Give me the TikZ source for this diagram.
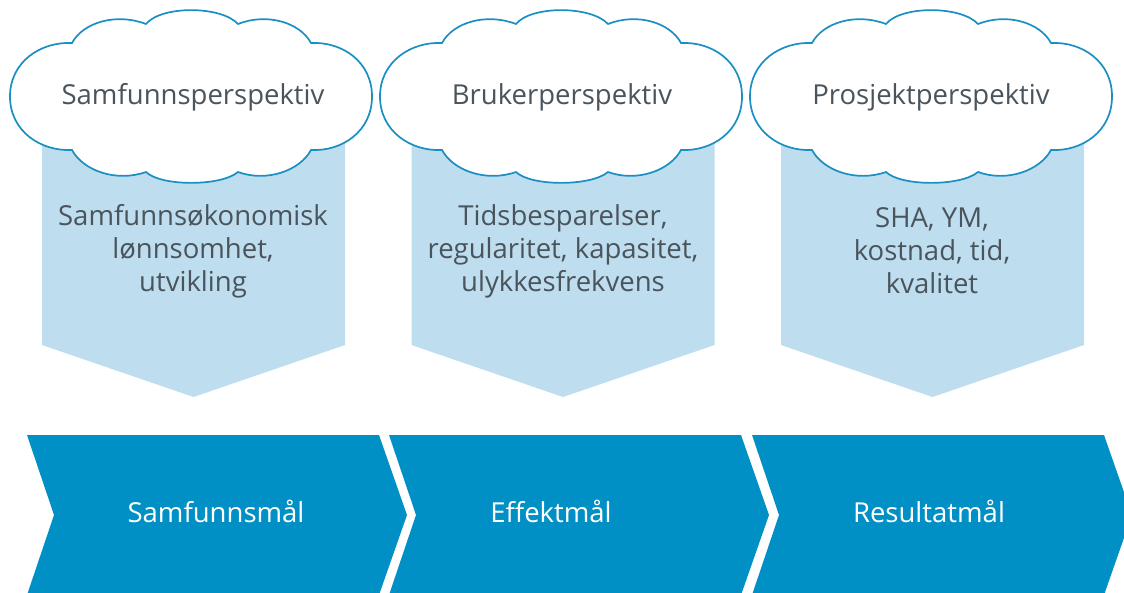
\documentclass[tikz,border=0pt]{standalone}
\usepackage{fontspec}
\setmainfont{Open Sans}
\definecolor{darkblue}{HTML}{0090C5}
\definecolor{lightblue}{HTML}{BEDDEE}
\definecolor{cloudline}{HTML}{1A8FC4}
\definecolor{txtgray}{HTML}{4A545C}
\tikzset{
  pent/.style={fill=lightblue, draw=none},
  chev/.style={fill=darkblue, draw=none},
  cloudshape/.style={fill=white, draw=cloudline, line width=1.7pt},
  cloudtext/.style={text=txtgray, font=\fontsize{27.5}{33}\selectfont, inner sep=0pt},
  bodytext/.style={text=txtgray, font=\fontsize{27.5}{33}\selectfont, align=center, inner sep=0pt},
  chevtext/.style={text=white, font=\fontsize{27.5}{33}\selectfont, inner sep=0pt},
}
\newcommand{\mycloud}[2]{%
  \path[cloudshape, shift={(#1,#2)}]
    (-119,-53.5) .. controls (-108,-74) and (-75,-84) .. (-45,-72.5)
    .. controls (-30,-91) and (30,-91) .. (47,-72.5)
    .. controls (76,-84) and (109,-74) .. (120,-53.5)
    .. controls (151,-55) and (181,-35) .. (181,0)
    .. controls (181,35) and (151,55) .. (120,53.5)
    .. controls (109,74) and (76,86) .. (47,75.5)
    .. controls (30,90) and (-30,90) .. (-45,75.5)
    .. controls (-75,86) and (-108,74) .. (-119,53.5)
    .. controls (-150,55) and (-181,35) .. (-181,0)
    .. controls (-181,-35) and (-150,-55) .. cycle;}
\newcommand{\mypent}[1]{%
  \path[pent, shift={(#1,0)}] (-151.5,140) -- (151.5,140) -- (151.5,345) -- (0,397) -- (-151.5,345) -- cycle;}
\newcommand{\mychev}[1]{%
  \path[chev, shift={(#1,0)}] (0,435) -- (352,435) -- (380,515) -- (352,595) -- (0,595) -- (27,515) -- cycle;}
\begin{document}
\begin{tikzpicture}[x=1pt, y=-1pt]
\useasboundingbox (0,0) rectangle (1124,592);
\clip (0,0) rectangle (1124,592);
% pentagons
\mypent{193.5}
\mypent{563}
\mypent{932.5}
% clouds
\mycloud{191}{96.5}
\mycloud{561}{96.5}
\mycloud{931}{96.5}
\node[cloudtext] (c1) at (193,97) {Samfunnsperspektiv};
\node[cloudtext] (c2) at (562,97) {Brukerperspektiv};
\node[cloudtext] (c3) at (931,97) {Prosjektperspektiv};
% body texts
\node[bodytext] (b1) at (193,251) {Samfunnsøkonomisk\\lønnsomhet,\\utvikling};
\node[bodytext] (b2) at (563,251) {Tidsbesparelser,\\regularitet, kapasitet,\\ulykkesfrekvens};
\node[bodytext] (b3) at (932,251) {SHA, YM,\\kostnad, tid,\\kvalitet};
% chevrons
\mychev{27}
\mychev{389}
\mychev{752}
\node[chevtext] (s1) at (216,511) {Samfunnsmål};
\node[chevtext] (s2) at (551,511) {Effektmål};
\node[chevtext] (s3) at (929,511) {Resultatmål};
\end{tikzpicture}
\end{document}
